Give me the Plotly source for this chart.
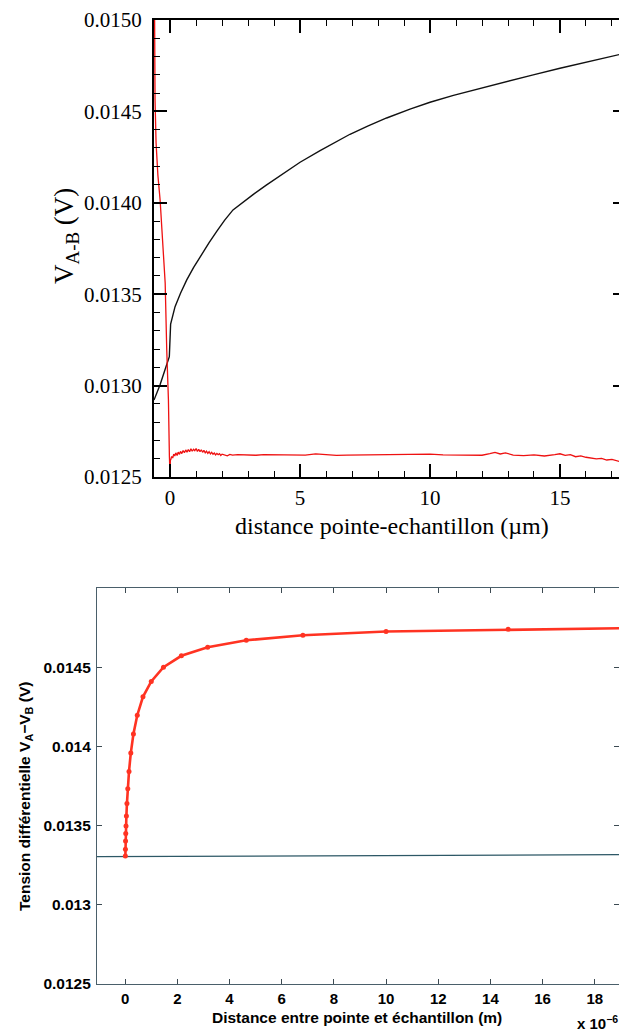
import plotly.graph_objects as go

# page body keeps an 8px margin, so the figure is offset by 8px on the page
OFF = 8
W, H = 627 - OFF, 1034 - OFF

# ---------------- top chart (measurement) ----------------
top_black_x = [-0.62, -0.39, -0.2, -0.03, 0.02, 0.19, 0.4, 0.64, 0.9, 1.15, 1.5, 1.8, 2.1, 2.42, 2.8, 3.19,
               3.7, 4.35, 5.0, 5.77, 6.28, 6.92, 7.6, 8.33, 9.23, 10.0, 10.9, 11.8, 12.69, 13.3,
               13.97, 15.0, 16.15, 17.5]
top_black_y = [0.012921, 0.013003, 0.013085, 0.013158, 0.013337, 0.013432, 0.013505, 0.013578, 0.013645,
               0.013704, 0.013782, 0.013845, 0.013905, 0.013961, 0.014005, 0.014045, 0.014097, 0.014160,
               0.014222, 0.014285, 0.014326, 0.014375, 0.014420, 0.014464, 0.014512, 0.014550, 0.014588,
               0.014622, 0.014655, 0.014677, 0.014700, 0.014736, 0.014772, 0.014818]

top_red_x = [-0.6, -0.58, -0.54, -0.47, -0.385, -0.3, -0.26, -0.19, -0.13, -0.065, -0.027, 0.0, 0.01, 0.02,
             0.06, 0.1, 0.14, 0.18, 0.22, 0.27, 0.31, 0.36, 0.4, 0.45, 0.5, 0.55, 0.6, 0.65, 0.7, 0.75,
             0.8, 0.85, 0.9, 0.95, 1.0, 1.05, 1.1, 1.15, 1.2, 1.25, 1.3, 1.35, 1.4, 1.45, 1.5, 1.55,
             1.6, 1.65, 1.7, 1.75, 1.8, 1.85, 1.9, 1.95, 2.0, 2.1, 2.2, 2.3, 2.4, 2.6, 2.8, 3.0, 3.3,
             3.6, 4.0, 4.4, 4.8, 5.2, 5.6, 6.0, 6.4, 6.8, 7.2, 7.6, 8.0, 8.5, 9.0, 9.5, 10.0, 10.5,
             11.0, 11.5, 12.0, 12.3, 12.5, 12.7, 12.9, 13.2, 13.6, 14.0, 14.4, 14.8, 15.0, 15.2, 15.4,
             15.6, 15.8, 16.0, 16.2, 16.4, 16.6, 16.8, 17.0, 17.2, 17.4, 17.54]
top_red_y = [0.0151, 0.014562, 0.014327, 0.014150, 0.014015, 0.013820, 0.013726, 0.013561, 0.013195,
             0.012921, 0.012611, 0.0125, 0.012599, 0.012592, 0.012612, 0.012604, 0.012625, 0.012615,
             0.012632, 0.012618, 0.012636, 0.012624, 0.012640, 0.012628, 0.012645, 0.012633, 0.012648,
             0.012636, 0.012650, 0.012638, 0.012655, 0.012641, 0.012652, 0.012644, 0.012656, 0.012640,
             0.012652, 0.012638, 0.012649, 0.012635, 0.012646, 0.012632, 0.012641, 0.012629, 0.012638,
             0.012626, 0.012635, 0.012624, 0.012631, 0.012621, 0.012629, 0.012622, 0.012628, 0.012618,
             0.012625, 0.012622, 0.012616, 0.012624, 0.012620, 0.012622, 0.012620, 0.012621, 0.012619,
             0.012622, 0.012621, 0.012619, 0.012622, 0.012620, 0.012626, 0.012621, 0.012618, 0.012620,
             0.012621, 0.012619, 0.012620, 0.012621, 0.012622, 0.012623, 0.012625, 0.012621, 0.012620,
             0.012622, 0.012619, 0.012628, 0.012635, 0.012626, 0.012632, 0.012620, 0.012617, 0.012621,
             0.012615, 0.012622, 0.012627, 0.012618, 0.012622, 0.012611, 0.012616, 0.012608, 0.012604,
             0.012599, 0.012602, 0.012593, 0.012596, 0.012589, 0.012580, 0.012566]

top_xticks = [0, 5, 10, 15]
top_yticks = [0.0125, 0.0130, 0.0135, 0.0140, 0.0145, 0.0150]
top_ytick_text = ["0.0125", "0.0130", "0.0135", "0.0140", "0.0145", "0.0150"]

# ---------------- bottom chart (simulation) ----------------
sim_x = [0.00681, 0.01, 0.01468, 0.02154, 0.03162, 0.04642, 0.06813, 0.1, 0.1468, 0.2154, 0.3162,
         0.4642, 0.6813, 1.0, 1.468, 2.154, 3.162, 4.642, 6.813, 10.0, 14.68, 21.54]
sim_y = [0.013308, 0.013351, 0.013403, 0.01345, 0.013497, 0.01356, 0.01364, 0.013733, 0.013842,
         0.013958, 0.014078, 0.014197, 0.014313, 0.01441, 0.0145, 0.014572, 0.014626, 0.01467,
         0.014702, 0.014725, 0.01474, 0.014752]
base_x = [-2.0, 20.0]
base_y = [0.013303, 0.013317]

bot_xticks = [0, 2, 4, 6, 8, 10, 12, 14, 16, 18]
bot_xtick_text = ["0", "2", "4", "6", "8", "10", "12", "14", "16", "18"]
bot_yticks = [0.0125, 0.013, 0.0135, 0.014, 0.0145]
bot_ytick_text = ["0.0125", "0.013", "0.0135", "0.014", "0.0145"]


def px(v):
    return (v - OFF) / W


def py(v):
    return 1 - (v - OFF) / H


fig = go.Figure()
fig.add_trace(go.Scatter(x=top_black_x, y=top_black_y, mode="lines",
                         line=dict(color="#111111", width=1.4), xaxis="x", yaxis="y", showlegend=False))
fig.add_trace(go.Scatter(x=top_red_x, y=top_red_y, mode="lines",
                         line=dict(color="#ee1111", width=1.3), xaxis="x", yaxis="y", showlegend=False))
fig.add_trace(go.Scatter(x=base_x, y=base_y, mode="lines",
                         line=dict(color="#2d5866", width=1.2), xaxis="x2", yaxis="y2", showlegend=False))
fig.add_trace(go.Scatter(x=sim_x, y=sim_y, mode="lines+markers",
                         line=dict(color="#ff3322", width=2.6),
                         marker=dict(color="#ff3322", size=5),
                         xaxis="x2", yaxis="y2", showlegend=False))

serif = "Liberation Serif"
sans = "Liberation Sans"

fig.update_layout(
    width=W, height=H, margin=dict(l=0, r=0, t=0, b=0, autoexpand=False),
    paper_bgcolor="white", plot_bgcolor="white",
    xaxis=dict(domain=[px(154), px(626)], anchor="y", range=[-0.62, 17.54], automargin=False,
               tickvals=top_xticks, ticks="inside", ticklen=13, tickwidth=1.5, tickcolor="black",
               minor=dict(dtick=1, tick0=0, ticks="inside", ticklen=6, tickcolor="black", tickwidth=1.2),
               showline=True, linecolor="black", linewidth=2, mirror="ticks", showgrid=False,
               zeroline=False, tickfont=dict(family=serif, size=21, color="black"),
               ticklabelstandoff=1),
    yaxis=dict(domain=[py(477), py(20)], anchor="x", range=[0.0125, 0.0150], automargin=False,
               tickvals=top_yticks, ticktext=top_ytick_text, ticks="inside", ticklen=13, tickwidth=1.5,
               tickcolor="black",
               minor=dict(dtick=0.0001, tick0=0.0125, ticks="inside", ticklen=6, tickcolor="black",
                          tickwidth=1.2),
               showline=True, linecolor="black", linewidth=2, mirror="ticks", showgrid=False,
               zeroline=False, tickfont=dict(family=serif, size=21, color="black"),
               ticklabelstandoff=6),
    xaxis2=dict(domain=[px(97), px(619)], anchor="y2", range=[-1.08, 18.93], automargin=False,
                tickvals=bot_xticks, ticktext=bot_xtick_text, ticks="inside", ticklen=5, tickwidth=1,
                tickcolor="#3c4a52", showline=True, linecolor="#4a5f6a", linewidth=1.2, mirror="ticks",
                showgrid=False, zeroline=False,
                tickfont=dict(family=sans, size=15, color="black", weight="bold"),
                ticklabelstandoff=1),
    yaxis2=dict(domain=[py(984), py(588)], anchor="x2", range=[0.0125, 0.0150], automargin=False,
                tickvals=bot_yticks, ticktext=bot_ytick_text, ticks="inside", ticklen=5, tickwidth=1,
                tickcolor="#3c4a52", showline=True, linecolor="#4a5f6a", linewidth=1.2, mirror="ticks",
                showgrid=False, zeroline=False,
                tickfont=dict(family=sans, size=15.5, color="black", weight="bold"),
                ticklabelstandoff=2),
)

annotations = [
    dict(text="distance pointe-echantillon (µm)", x=px(392), y=py(526), xref="paper", yref="paper",
         showarrow=False, xanchor="center", yanchor="middle",
         font=dict(family=serif, size=24, color="black")),
    dict(text="V<sub>A-B</sub> (V)", x=px(66), y=py(236), xref="paper", yref="paper",
         showarrow=False, xanchor="center", yanchor="middle", textangle=-90,
         font=dict(family=serif, size=27, color="black")),
    dict(text="<b>Distance entre pointe et échantillon (m)</b>", x=px(357), y=py(1017), xref="paper",
         yref="paper", showarrow=False, xanchor="center", yanchor="middle",
         font=dict(family=sans, size=15.5, color="black")),
    dict(text="<b>Tension différentielle V<sub>A</sub>−V<sub>B</sub> (V)</b>", x=px(25), y=py(797),
         xref="paper", yref="paper", showarrow=False, xanchor="center", yanchor="middle",
         textangle=-90, font=dict(family=sans, size=15.5, color="black")),
    dict(text="<b>x 10<sup>−6</sup></b>", x=px(597), y=py(1022), xref="paper", yref="paper",
         showarrow=False, xanchor="center", yanchor="middle",
         font=dict(family=sans, size=15, color="black")),
]
fig.update_layout(annotations=annotations)

fig.write_html("out.html")
